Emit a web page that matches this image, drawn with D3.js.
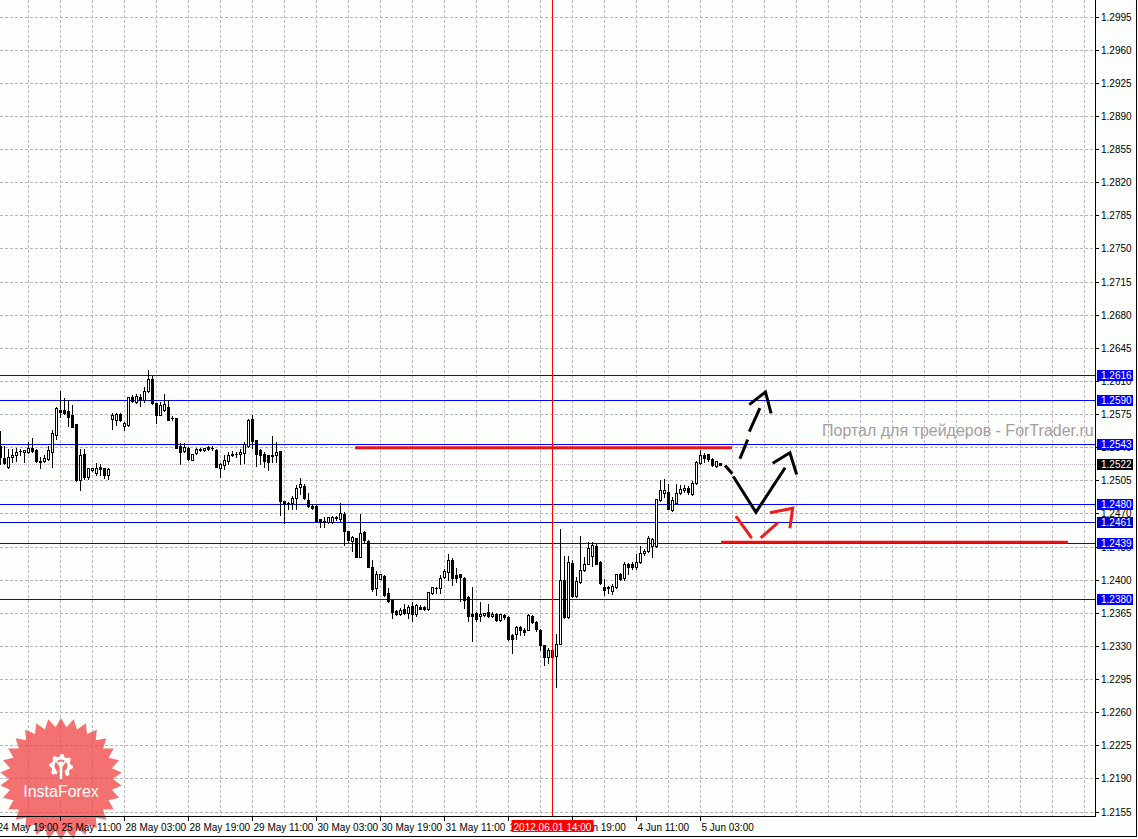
<!DOCTYPE html>
<html><head><meta charset="utf-8">
<script src="https://cdn.jsdelivr.net/npm/d3@7"></script>
<style>html,body{margin:0;padding:0;background:#fff;}svg{display:block;}</style>
</head><body>
<svg id="chart" width="1138" height="839"></svg>
<script>
// ---------- DATA (EURUSD H1, bar index 0 = 24 May 20:00) ----------
const opens = [1.2542,1.2529,1.2520,1.2530,1.2532,1.2536,1.2535,1.2535,1.2540,1.2538,1.2526,1.2526,1.2528,1.2535,1.2553,1.2580,1.2580,1.2579,1.2574,1.2565,1.2506,1.2533,1.2509,1.2516,1.2513,1.2520,1.2518,1.2511,
1.2570,1.2569,1.2576,1.2563,1.2564,1.2594,1.2588,1.2594,1.2590,1.2600,1.2613,1.2587,1.2575,1.2580,1.2583,1.2571,1.2571,1.2542,1.2536,1.2540,1.2527,1.2534,1.2537,1.2538,1.2541,1.2540,1.2538,1.2519,1.2522,1.2526,1.2532,1.2533,1.2533,1.2534,1.2542,1.2570,1.2548,1.2538,1.2533,1.2532,1.2532,1.2532,
1.2536,1.2484,1.2482,1.2481,1.2487,1.2498,1.2499,1.2485,1.2478,1.2478,1.2465,1.2463,1.2461,1.2461,1.2467,1.2465,1.2470,1.2452,1.2441,1.2445,1.2424,1.2451,1.2441,1.2414,1.2392,1.2401,1.2404,1.2386,1.2379,1.2367,
1.2364,1.2369,1.2365,1.2373,1.2364,1.2372,1.2372,1.2369,1.2386,1.2392,1.2392,1.2403,1.2409,1.2421,1.2405,1.2406,1.2402,1.2382,1.2364,1.2365,1.2362,1.2363,1.2366,1.2362,1.2364,1.2358,1.2363,1.2361,1.2342,1.2343,
1.2350,1.2347,1.2347,1.2362,1.2356,1.2347,1.2331,1.2319,1.2326,1.2320,1.2333,1.2400,1.2361,1.2418,1.2383,1.2398,1.2411,1.2417,1.2426,1.2436,1.2419,1.2393,1.2393,1.2389,1.2393,1.2407,1.2402,1.2417,1.2417,1.2414,
1.2419,1.2429,1.2431,1.2436,1.2436,1.2485,1.2492,1.2493,1.2474,1.2482,1.2492,1.2495,1.2497,1.2491,1.2503,1.2524,1.2532,1.2533,1.2528,1.2521,1.2524];
const highs = [1.2558,1.2542,1.2539,1.2539,1.2540,1.2539,1.2538,1.2546,1.2550,1.2539,1.2530,1.2532,1.2542,1.2559,1.2583,1.2600,1.2592,1.2590,1.2585,1.2565,1.2539,1.2539,1.2519,1.2519,1.2524,1.2523,1.2519,1.2519,
1.2577,1.2577,1.2577,1.2567,1.2594,1.2596,1.2597,1.2597,1.2604,1.2622,1.2616,1.2587,1.2588,1.2597,1.2590,1.2573,1.2571,1.2545,1.2545,1.2541,1.2533,1.2540,1.2540,1.2540,1.2542,1.2542,1.2539,1.2524,1.2532,1.2535,1.2536,1.2535,1.2539,1.2546,1.2570,1.2575,1.2548,1.2539,1.2535,1.2532,1.2552,1.2546,
1.2536,1.2484,1.2483,1.2489,1.2500,1.2508,1.2502,1.2492,1.2480,1.2480,1.2465,1.2467,1.2467,1.2468,1.2468,1.2481,1.2472,1.2452,1.2447,1.2445,1.2470,1.2452,1.2442,1.2421,1.2410,1.2406,1.2405,1.2392,1.2379,1.2368,
1.2371,1.2375,1.2374,1.2377,1.2375,1.2374,1.2373,1.2387,1.2393,1.2393,1.2405,1.2412,1.2428,1.2423,1.2413,1.2407,1.2403,1.2383,1.2393,1.2366,1.2377,1.2365,1.2375,1.2366,1.2365,1.2364,1.2364,1.2362,1.2343,1.2352,
1.2352,1.2349,1.2364,1.2363,1.2357,1.2348,1.2331,1.2328,1.2336,1.2343,1.2454,1.2426,1.2426,1.2421,1.2403,1.2447,1.2424,1.2440,1.2440,1.2438,1.2420,1.2401,1.2394,1.2396,1.2407,1.2408,1.2419,1.2418,1.2419,1.2428,
1.2436,1.2433,1.2447,1.2444,1.2486,1.2506,1.2507,1.2502,1.2488,1.2502,1.2500,1.2500,1.2499,1.2505,1.2526,1.2538,1.2534,1.2533,1.2529,1.2526,1.2524];
const lows = [1.2523,1.2523,1.2519,1.2525,1.2526,1.2532,1.2525,1.2534,1.2535,1.2525,1.2518,1.2525,1.2527,1.2520,1.2549,1.2572,1.2576,1.2563,1.2562,1.2505,1.2495,1.2507,1.2507,1.2515,1.2511,1.2511,1.2508,1.2507,
1.2560,1.2564,1.2568,1.2559,1.2563,1.2588,1.2587,1.2584,1.2588,1.2599,1.2586,1.2566,1.2574,1.2579,1.2569,1.2569,1.2540,1.2523,1.2535,1.2527,1.2527,1.2533,1.2536,1.2536,1.2538,1.2538,1.2520,1.2509,1.2517,1.2523,1.2531,1.2530,1.2523,1.2524,1.2541,1.2540,1.2521,1.2523,1.2520,1.2516,1.2525,1.2525,
1.2469,1.2460,1.2475,1.2475,1.2475,1.2491,1.2486,1.2477,1.2475,1.2462,1.2456,1.2456,1.2460,1.2460,1.2464,1.2462,1.2437,1.2440,1.2431,1.2424,1.2424,1.2440,1.2414,1.2388,1.2384,1.2401,1.2383,1.2377,1.2360,1.2363,
1.2363,1.2364,1.2360,1.2357,1.2362,1.2369,1.2368,1.2368,1.2385,1.2386,1.2386,1.2402,1.2400,1.2395,1.2398,1.2378,1.2371,1.2357,1.2336,1.2357,1.2357,1.2362,1.2361,1.2361,1.2357,1.2357,1.2359,1.2337,1.2323,1.2338,
1.2342,1.2342,1.2347,1.2355,1.2346,1.2326,1.2310,1.2312,1.2319,1.2287,1.2332,1.2360,1.2360,1.2382,1.2382,1.2397,1.2410,1.2417,1.2415,1.2417,1.2396,1.2384,1.2386,1.2385,1.2392,1.2400,1.2400,1.2407,1.2412,1.2412,
1.2418,1.2427,1.2430,1.2424,1.2435,1.2484,1.2488,1.2475,1.2473,1.2481,1.2491,1.2493,1.2491,1.2490,1.2502,1.2523,1.2525,1.2526,1.2521,1.2520,1.2522];
const closes = [1.2530,1.2524,1.2530,1.2532,1.2535,1.2536,1.2537,1.2540,1.2536,1.2526,1.2525,1.2529,1.2537,1.2555,1.2582,1.2578,1.2577,1.2572,1.2562,1.2506,1.2532,1.2509,1.2518,1.2518,1.2519,1.2517,1.2511,1.2517,
1.2575,1.2576,1.2569,1.2566,1.2593,1.2589,1.2595,1.2591,1.2600,1.2613,1.2587,1.2575,1.2585,1.2586,1.2569,1.2571,1.2540,1.2535,1.2541,1.2528,1.2533,1.2539,1.2539,1.2540,1.2539,1.2540,1.2520,1.2523,1.2527,1.2532,1.2533,1.2533,1.2535,1.2544,1.2569,1.2547,1.2533,1.2532,1.2526,1.2525,1.2531,1.2535,
1.2484,1.2480,1.2481,1.2487,1.2497,1.2502,1.2487,1.2478,1.2476,1.2463,1.2461,1.2461,1.2467,1.2467,1.2466,1.2471,1.2452,1.2442,1.2446,1.2424,1.2450,1.2442,1.2414,1.2391,1.2407,1.2406,1.2384,1.2378,1.2366,1.2364,
1.2368,1.2365,1.2372,1.2364,1.2374,1.2370,1.2369,1.2387,1.2393,1.2392,1.2402,1.2410,1.2421,1.2402,1.2402,1.2403,1.2379,1.2362,1.2362,1.2359,1.2364,1.2365,1.2362,1.2364,1.2358,1.2364,1.2361,1.2338,1.2338,1.2350,
1.2347,1.2345,1.2363,1.2356,1.2348,1.2331,1.2319,1.2326,1.2319,1.2333,1.2400,1.2361,1.2419,1.2383,1.2399,1.2411,1.2417,1.2434,1.2437,1.2417,1.2397,1.2390,1.2392,1.2394,1.2406,1.2401,1.2417,1.2414,1.2414,1.2419,
1.2429,1.2431,1.2444,1.2443,1.2486,1.2495,1.2495,1.2475,1.2485,1.2492,1.2496,1.2497,1.2493,1.2503,1.2525,1.2532,1.2529,1.2528,1.2522,1.2526,1.2522];

const priceTicks = ["1.2995","1.2960","1.2925","1.2890","1.2855","1.2820","1.2785","1.2750","1.2715","1.2680","1.2645","1.2610","1.2575","1.2540","1.2505","1.2470","1.2435","1.2400","1.2365","1.2330","1.2295","1.2260","1.2225","1.2190","1.2155"];
const timeLabels = ["24 May 19:00","25 May 11:00","28 May 03:00","28 May 19:00","29 May 11:00","30 May 03:00","30 May 19:00","31 May 11:00","1 Jun 03:00","1 Jun 19:00","4 Jun 11:00","5 Jun 03:00"];
const timeLabelBars = [-1,15,31,47,63,79,95,111,127,143,159,175];
const levelPrices = [1.2616,1.2590,1.2543,1.2480,1.2461,1.2439,1.2380];
const levelLabels = ["1.2616","1.2590","1.2543","1.2480","1.2461","1.2439","1.2380"];
const levelColors = ["#0000ff","#0000ff","#0000ff","#0000ff","#0000cd","#0000ff","#0000ff"];
const bidPrice = 1.2522, bidLabel = "1.2522";
const cursorBar = 138, cursorLabel = "2012.06.01 14:00";
const redLinePrices = [1.2540, 1.2440];
const redLineFrom = [88.7, 180.2];
const redLineTo = [182.9, 266.9];
// hand-drawn forecast strokes, points as [bar, price]
const blackStrokes = [
  [[184.9,1.25283],[186.85,1.25484]],
  [[187.25,1.25570],[189.9,1.25817]],
  [[187.25,1.25855],[191.3,1.25988],[192.7,1.25763]],
  [[181.2,1.25211],[183.0,1.25123]],
  [[183.25,1.25095],[188.9,1.24717],[196.2,1.25187]],
  [[193.1,1.25235],[197.4,1.25345],[199.1,1.25116]]
];
const redStrokes = [
  [[183.9,1.24675],[187.85,1.24443]],
  [[190.1,1.24447],[194.35,1.24606]],
  [[192.4,1.24711],[198.1,1.24760],[197.4,1.24548]]
];
const watermark = "Портал для трейдеров - ForTrader.ru";
const logoText = "InstaForex";

// ---------- DRAW ----------
const W = 1138, H = 839, PR = 1095, PB = 816;
const svg = d3.select("#chart");
const x = d3.scaleLinear().domain([0, 180]).range([0.3, 720.3]);
const y = d3.scaleLinear().domain([1.2155, 1.2995]).range([812, 17]);
const hp = v => Math.floor(v) + 0.5;
const FONT = "'Liberation Sans', Arial, sans-serif";

svg.append("rect").attr("width", W).attr("height", H).attr("fill", "#fcfefc");
svg.append("defs").append("clipPath").attr("id", "clip")
  .append("rect").attr("x", 0).attr("y", 0).attr("width", PR).attr("height", PB);

const plot = svg.append("g").attr("clip-path", "url(#clip)");

// grid
plot.append("g").selectAll("line").data(priceTicks).join("line")
  .attr("x1", 0).attr("x2", PR)
  .attr("y1", d => hp(y(+d))).attr("y2", d => hp(y(+d)))
  .attr("stroke", "#b2b8b2").attr("stroke-dasharray", "3,2");
plot.append("g").selectAll("line").data(d3.range(7, 280, 8)).join("line")
  .attr("x1", d => hp(x(d))).attr("x2", d => hp(x(d)))
  .attr("y1", 0).attr("y2", PB)
  .attr("stroke", "#c6b6c8").attr("stroke-dasharray", "3,2");

// bid line
plot.append("line").attr("x1", 0).attr("x2", PR)
  .attr("y1", hp(y(bidPrice))).attr("y2", hp(y(bidPrice)))
  .attr("stroke", "#c0b0c0").attr("stroke-dasharray", "1,1");

// watermark
plot.append("text").attr("x", 822).attr("y", 436)
  .attr("font-family", FONT).attr("font-size", 16)
  .attr("fill", "#a89c9c").text(watermark);

// level lines
plot.append("g").selectAll("line").data(levelPrices).join("line")
  .attr("x1", 0).attr("x2", PR)
  .attr("y1", d => hp(y(d))).attr("y2", d => hp(y(d)))
  .attr("stroke", (d, i) => levelColors[i]).attr("stroke-width", 1);

// candles
const idx = d3.range(opens.length);
const cg = plot.append("g");
idx.forEach(i => {
  const cx = Math.round(x(i));
  const yh = Math.round(y(highs[i])), yl = Math.round(y(lows[i]));
  cg.append("line").attr("x1", cx + 0.5).attr("x2", cx + 0.5)
    .attr("y1", yh).attr("y2", yl + 1).attr("stroke", "#000");
  const top = Math.round(y(Math.max(opens[i], closes[i])));
  const bot = Math.round(y(Math.min(opens[i], closes[i])));
  if (bot - top < 1) {
    cg.append("line").attr("x1", cx - 1).attr("x2", cx + 2)
      .attr("y1", top + 0.5).attr("y2", top + 0.5).attr("stroke", "#000");
  } else {
    cg.append("rect").attr("x", cx - 0.5).attr("y", top + 0.5)
      .attr("width", 2).attr("height", bot - top)
      .attr("fill", closes[i] >= opens[i] ? "#fff" : "#000")
      .attr("stroke", "#000").attr("stroke-width", 1);
  }
});

// red horizontal lines
plot.append("g").selectAll("line").data(redLinePrices).join("line")
  .attr("x1", (d, i) => x(redLineFrom[i])).attr("x2", (d, i) => x(redLineTo[i]))
  .attr("y1", d => y(d)).attr("y2", d => y(d))
  .attr("stroke", "#ee1111").attr("stroke-width", 3);

// cursor vertical line
plot.append("line").attr("x1", hp(x(cursorBar))).attr("x2", hp(x(cursorBar)))
  .attr("y1", 0).attr("y2", PB).attr("stroke", "#ff0000");

// forecast strokes
const ln = d3.line().x(d => x(d[0])).y(d => y(d[1]));
plot.append("g").selectAll("path").data(blackStrokes).join("path")
  .attr("d", ln).attr("fill", "none").attr("stroke", "#000").attr("stroke-width", 3);
plot.append("g").selectAll("path").data(redStrokes).join("path")
  .attr("d", ln).attr("fill", "none").attr("stroke", "#ee1c1c").attr("stroke-width", 3);

// logo (star badge)
const lg = svg.append("g").attr("transform", "translate(61,779)");
const nSp = 30, rO = 61, rI = 52;
const starPts = d3.range(nSp * 2).map(j => {
  const a = j * Math.PI / nSp - Math.PI / 2;
  const r = j % 2 === 0 ? rO : rI;
  return [r * Math.cos(a), r * Math.sin(a)];
});
lg.append("path").attr("d", "M" + starPts.join("L") + "Z")
  .attr("fill", "rgb(240,60,60)").attr("fill-opacity", 0.72);
// gear icon
const gear = lg.append("g").attr("transform", "translate(0,-13)");
const nT = 8;
const gearPts = d3.range(nT * 4).map(j => {
  const a = j * Math.PI * 2 / (nT * 4) - Math.PI / 2;
  const r = (j % 4 < 2) ? 12 : 9.5;
  return [r * Math.cos(a), r * Math.sin(a)];
});
gear.append("path").attr("d", "M" + gearPts.join("L") + "Z").attr("fill", "#fff");
gear.append("circle").attr("r", 6.5).attr("fill", "#f06a6a");
gear.append("circle").attr("cy", -2.5).attr("r", 2.2).attr("fill", "#fff");
gear.append("path").attr("d", "M-5,-4 L-1.2,1 L-1.2,12 L1.2,12 L1.2,1 L5,-4 L3.5,-5 L0,-0.5 L-3.5,-5 Z").attr("fill", "#fff");
gear.append("rect").attr("x", -4).attr("y", 6).attr("width", 8).attr("height", 7).attr("fill", "#f06a6a");
gear.append("rect").attr("x", -1.3).attr("y", 1).attr("width", 2.6).attr("height", 12).attr("fill", "#fff");
lg.append("text").attr("x", 0).attr("y", 18).attr("text-anchor", "middle")
  .attr("font-family", FONT).attr("font-size", 16).attr("fill", "#fff").text(logoText);

// axes
svg.append("line").attr("x1", PR + 0.5).attr("x2", PR + 0.5).attr("y1", 0).attr("y2", PB + 1).attr("stroke", "#000");
svg.append("line").attr("x1", 0).attr("x2", PR + 1).attr("y1", PB + 0.5).attr("y2", PB + 0.5).attr("stroke", "#000");
svg.append("line").attr("x1", W - 1.5).attr("x2", W - 1.5).attr("y1", 0).attr("y2", H - 2).attr("stroke", "#000");
svg.append("line").attr("x1", 0).attr("x2", W - 1).attr("y1", H - 2.5).attr("y2", H - 2.5).attr("stroke", "#000");

// y-axis ticks + labels
const ya = svg.append("g");
ya.selectAll("line").data(priceTicks).join("line")
  .attr("x1", PR + 1).attr("x2", PR + 4)
  .attr("y1", d => hp(y(+d))).attr("y2", d => hp(y(+d))).attr("stroke", "#000");
ya.selectAll("text").data(priceTicks).join("text")
  .attr("x", 1101).attr("y", d => hp(y(+d)) + 3.5)
  .attr("font-family", FONT).attr("font-size", 10).attr("fill", "#000").text(d => d);

// level price boxes
const lb = svg.append("g").selectAll("g").data(levelPrices).join("g")
  .attr("transform", d => `translate(0,${hp(y(d))})`);
lb.append("rect").attr("x", 1097).attr("y", -5.5).attr("width", 36).attr("height", 11)
  .attr("fill", (d, i) => levelColors[i]);
lb.append("text").attr("x", 1101).attr("y", 3.5)
  .attr("font-family", FONT).attr("font-size", 10).attr("fill", "#fff").text((d, i) => levelLabels[i]);
const bb = svg.append("g").attr("transform", `translate(0,${hp(y(bidPrice))})`);
bb.append("rect").attr("x", 1097).attr("y", -5.5).attr("width", 36).attr("height", 11).attr("fill", "#000");
bb.append("text").attr("x", 1101).attr("y", 3.5)
  .attr("font-family", FONT).attr("font-size", 10).attr("fill", "#fff").text(bidLabel);

// x-axis ticks + labels
const xa = svg.append("g");
xa.selectAll("line").data(timeLabelBars).join("line")
  .attr("x1", d => hp(x(d))).attr("x2", d => hp(x(d)))
  .attr("y1", PB + 1).attr("y2", PB + 5).attr("stroke", "#000");
xa.selectAll("text").data(timeLabels).join("text")
  .attr("x", (d, i) => Math.round(x(timeLabelBars[i])) + 1.5).attr("y", 831)
  .attr("font-family", FONT).attr("font-size", 10).attr("fill", "#000").text(d => d);

// cursor time label
const cxp = hp(x(cursorBar));
svg.append("rect").attr("x", cxp - 41).attr("y", 820).attr("width", 82).attr("height", 12).attr("fill", "#ff0000");
svg.append("text").attr("x", cxp).attr("y", 830.5).attr("text-anchor", "middle")
  .attr("font-family", FONT).attr("font-size", 10).attr("fill", "#fff").text(cursorLabel);
</script>
</body></html>
